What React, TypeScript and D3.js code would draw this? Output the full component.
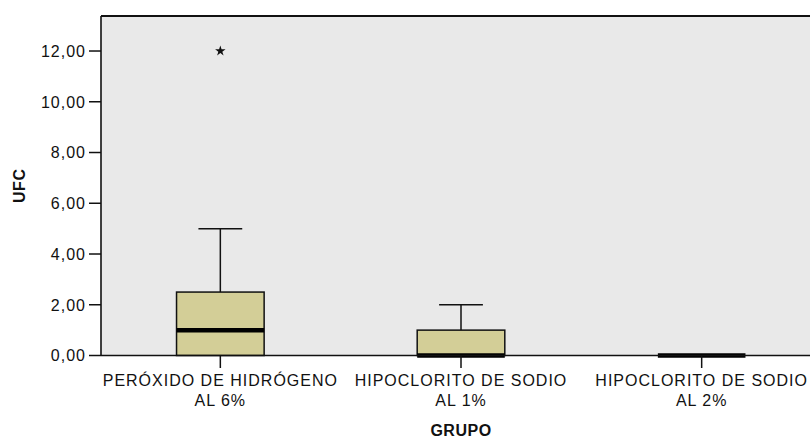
import React from "react";
import * as d3 from "d3";

// Box-plot summary per group (UFC counts)
const categories = ["PERÓXIDO DE HIDRÓGENO|AL 6%", "HIPOCLORITO DE SODIO|AL 1%", "HIPOCLORITO DE SODIO|AL 2%"];
const whiskerLow = [0, 0, 0];
const q1 = [0, 0, 0];
const median = [1, 0, 0];
const q3 = [2.5, 1, 0];
const whiskerHigh = [5, 2, 0];
const extremes = [[12], [], []];
const yTicks = [0, 2, 4, 6, 8, 10, 12];

const W = 810;
const H = 439;
const left = 101;
const top = 16;
const bottom = 355.5;

export default function App() {
  const x = d3.scaleBand<string>().domain(categories).range([100, 822]).padding(0);
  const y = d3.scaleLinear().domain([0, 13.38]).range([bottom, top]);
  const fmt = (v: number) => v.toFixed(2).replace(".", ",");
  const boxW = x.step() * 0.364;
  const capW = boxW / 2;
  const font = "Arial, 'Liberation Sans', sans-serif";
  const star = d3.symbol().type(d3.symbolStar).size(34)();

  return (
    <svg width={W} height={H} style={{ position: "absolute", left: 0, top: 0, background: "#fff" }}>
      <rect x={left} y={top} width={W - left} height={bottom - top} fill="#e9e9e9" />
      <line x1={left} x2={W} y1={top} y2={top} stroke="#111" strokeWidth={1.8} />

      {/* y axis */}
      <g fontFamily={font} fontSize={16} letterSpacing={1} fill="#111">
        {yTicks.map((t) => (
          <g key={t}>
            <line x1={89} x2={left} y1={y(t)} y2={y(t)} stroke="#111" strokeWidth={1.5} />
            <text x={86} y={y(t)} dy="0.36em" textAnchor="end">
              {fmt(t)}
            </text>
          </g>
        ))}
      </g>
      <text
        transform={`translate(25,${(top + bottom) / 2}) rotate(-90)`}
        textAnchor="middle"
        fontFamily={font}
        fontWeight="bold"
        fontSize={16}
        letterSpacing={0.5}
        fill="#111"
      >
        UFC
      </text>

      {/* boxes */}
      {categories.map((c, i) => {
        const cx = (x(c) as number) + x.bandwidth() / 2;
        return (
          <g key={c}>
            <line x1={cx} x2={cx} y1={y(q3[i])} y2={y(whiskerHigh[i])} stroke="#111" strokeWidth={1.5} />
            <line x1={cx} x2={cx} y1={y(q1[i])} y2={y(whiskerLow[i])} stroke="#111" strokeWidth={1.5} />
            {whiskerHigh[i] > q3[i] && (
              <line x1={cx - capW / 2} x2={cx + capW / 2} y1={y(whiskerHigh[i])} y2={y(whiskerHigh[i])} stroke="#111" strokeWidth={1.5} />
            )}
            {q3[i] > q1[i] && (
              <rect
                x={cx - boxW / 2}
                y={y(q3[i])}
                width={boxW}
                height={y(q1[i]) - y(q3[i])}
                fill="#d3ce97"
                stroke="#111"
                strokeWidth={1.5}
              />
            )}
            <line x1={cx - boxW / 2} x2={cx + boxW / 2} y1={y(median[i])} y2={y(median[i])} stroke="#000" strokeWidth={4.5} />
            {extremes[i].map((v, k) => (
              <path key={k} d={star as string} transform={`translate(${cx},${y(v)})`} fill="#111" />
            ))}
          </g>
        );
      })}

      {/* axes lines */}
      <line x1={left} x2={left} y1={top} y2={bottom} stroke="#111" strokeWidth={1.6} />
      <line x1={left} x2={W} y1={bottom} y2={bottom} stroke="#111" strokeWidth={1.6} />

      {/* x axis */}
      <g fontFamily={font} fontSize={16} letterSpacing={1} fill="#111" textAnchor="middle">
        {categories.map((c) => {
          const cx = (x(c) as number) + x.bandwidth() / 2;
          const [l1, l2] = c.split("|");
          return (
            <g key={c}>
              <line x1={cx} x2={cx} y1={bottom} y2={368} stroke="#111" strokeWidth={1.5} />
              <text x={cx} y={385.5}>{l1}</text>
              <text x={cx} y={405.5}>{l2}</text>
            </g>
          );
        })}
      </g>
      <text x={461} y={436} textAnchor="middle" fontFamily={font} fontWeight="bold" fontSize={16} letterSpacing={0.5} fill="#111">
        GRUPO
      </text>
    </svg>
  );
}
